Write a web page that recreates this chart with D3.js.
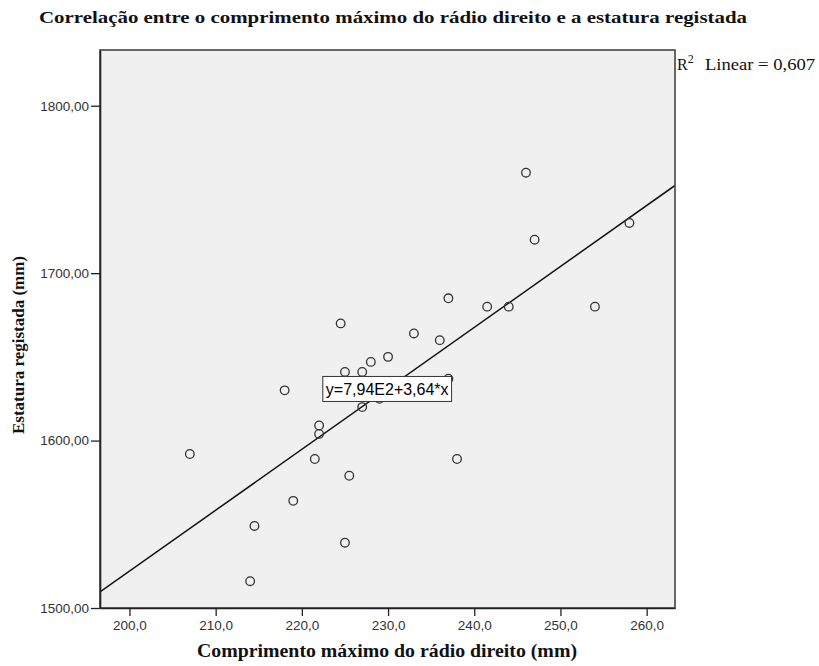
<!DOCTYPE html>
<html>
<head>
<meta charset="utf-8">
<script src="https://cdn.jsdelivr.net/npm/d3@7"></script>
<style>
  html, body { margin: 0; padding: 0; background: #ffffff; }
  svg { display: block; }
</style>
</head>
<body>
<div id="chart"></div>
<script>
// ---- data ----
const radioLength = [207.0, 214.0, 214.5, 218.0, 219.0, 221.5, 222.0, 222.0, 224.5, 225.0,
                     225.0, 225.5, 227.0, 227.0, 228.0, 229.0, 230.0, 233.0, 236.0, 237.0,
                     237.0, 238.0, 241.5, 244.0, 246.0, 247.0, 254.0, 258.0];
const stature =     [1592, 1516, 1549, 1630, 1564, 1589, 1609, 1604, 1670, 1641,
                     1539, 1579, 1641, 1620, 1647, 1625, 1650, 1664, 1660, 1637,
                     1685, 1589, 1680, 1680, 1760, 1720, 1680, 1730];
const xTicks = [200, 210, 220, 230, 240, 250, 260];
const yTicks = [1500, 1600, 1700, 1800];
const fitIntercept = 794;
const fitSlope = 3.64;
const fitLabel = "y=7,94E2+3,64*x";
const r2Label = "0,607";
const titleText = "Correlação entre o comprimento máximo do rádio direito e a estatura registada";
const xTitle = "Comprimento máximo do rádio direito (mm)";
const yTitle = "Estatura registada (mm)";

// ---- layout ----
const W = 819, H = 666;
const m = { left: 100, top: 50, right: 144, bottom: 58 };
const pw = W - m.left - m.right, ph = H - m.top - m.bottom;

const svg = d3.select("#chart").append("svg").attr("width", W).attr("height", H);

const x = d3.scaleLinear().domain([196.58, 263.29]).range([0, pw]);
const y = d3.scaleLinear().domain([1500, 1833.3]).range([ph, 0]);

const fmtX = v => d3.format(".1f")(v).replace(".", ",");
const fmtY = v => d3.format(".2f")(v).replace(".", ",");

const g = svg.append("g").attr("transform", `translate(${m.left},${m.top})`);

// background
g.append("rect").attr("width", pw).attr("height", ph).attr("fill", "#f0f0f0");

svg.append("defs").append("clipPath").attr("id", "clip")
  .append("rect").attr("width", pw).attr("height", ph);

// regression line
const lineG = g.append("g").attr("clip-path", "url(#clip)");
const xd = x.domain();
lineG.append("line")
  .attr("x1", x(xd[0])).attr("y1", y(fitIntercept + fitSlope * xd[0]))
  .attr("x2", x(xd[1])).attr("y2", y(fitIntercept + fitSlope * xd[1]))
  .attr("stroke", "#111").attr("stroke-width", 1.5);

// points
g.append("g").selectAll("circle")
  .data(radioLength.map((v, i) => [v, stature[i]]))
  .join("circle")
  .attr("cx", d => x(d[0])).attr("cy", d => y(d[1]))
  .attr("r", 4.3)
  .attr("fill", "none").attr("stroke", "#333").attr("stroke-width", 1.3);

// equation label box
const mx = 229.9;
const lx = x(mx), ly = y(fitIntercept + fitSlope * mx);
const eq = g.append("g").attr("transform", `translate(${lx},${ly})`);
const eqText = eq.append("text").attr("text-anchor", "middle").attr("dy", "0.35em")
  .attr("font-family", "Liberation Sans, Arial, sans-serif").attr("font-size", 16)
  .attr("fill", "#000").text(fitLabel);
const bb = eqText.node().getBBox();
eq.insert("rect", "text")
  .attr("x", bb.x - 3).attr("y", -12.5).attr("width", bb.width + 6).attr("height", 25)
  .attr("fill", "#fff").attr("stroke", "#333").attr("stroke-width", 1);

// frame
g.append("rect").attr("width", pw).attr("height", ph)
  .attr("fill", "none").attr("stroke", "#444").attr("stroke-width", 1.6);

// axes
const xAxis = g.append("g").attr("transform", `translate(0,${ph})`)
  .call(d3.axisBottom(x).tickValues(xTicks).tickFormat(fmtX)
    .tickSizeInner(8).tickSizeOuter(0).tickPadding(4));
const yAxis = g.append("g")
  .call(d3.axisLeft(y).tickValues(yTicks).tickFormat(fmtY)
    .tickSizeInner(9).tickSizeOuter(0).tickPadding(2));
[xAxis, yAxis].forEach(a => {
  a.select(".domain").attr("stroke", "#222").attr("stroke-width", 1.6);
  a.selectAll(".tick line").attr("stroke", "#222").attr("stroke-width", 1.3);
  a.selectAll(".tick text").attr("font-family", "Liberation Sans, Arial, sans-serif")
    .attr("font-size", 13.5).attr("fill", "#333");
});

// titles
const serif = "Liberation Serif, Times New Roman, serif";
svg.append("text").attr("x", 393).attr("y", 23).attr("text-anchor", "middle")
  .attr("font-family", serif).attr("font-weight", "bold")
  .attr("font-size", 17.5).attr("fill", "#111")
  .attr("textLength", 708).attr("lengthAdjust", "spacingAndGlyphs")
  .text(titleText);

svg.append("text").attr("x", 387).attr("y", 657).attr("text-anchor", "middle")
  .attr("font-family", serif).attr("font-weight", "bold")
  .attr("font-size", 18.5).attr("fill", "#111")
  .attr("textLength", 380).attr("lengthAdjust", "spacingAndGlyphs")
  .text(xTitle);

svg.append("text").attr("transform", `translate(24,345) rotate(-90)`)
  .attr("text-anchor", "middle")
  .attr("font-family", serif).attr("font-weight", "bold")
  .attr("font-size", 17).attr("fill", "#111")
  .attr("textLength", 178).attr("lengthAdjust", "spacingAndGlyphs")
  .text(yTitle);

// R2 legend
const r2 = svg.append("text").attr("x", m.left + pw + 2).attr("y", 70)
  .attr("font-family", serif).attr("font-size", 16).attr("fill", "#111");
r2.append("tspan").text("R");
r2.append("tspan").attr("dy", -7).attr("font-size", 12).text("2");
r2.append("tspan").attr("x", 705).attr("y", 70)
  .attr("textLength", 110).attr("lengthAdjust", "spacingAndGlyphs")
  .text("Linear = " + r2Label);
</script>
</body>
</html>
